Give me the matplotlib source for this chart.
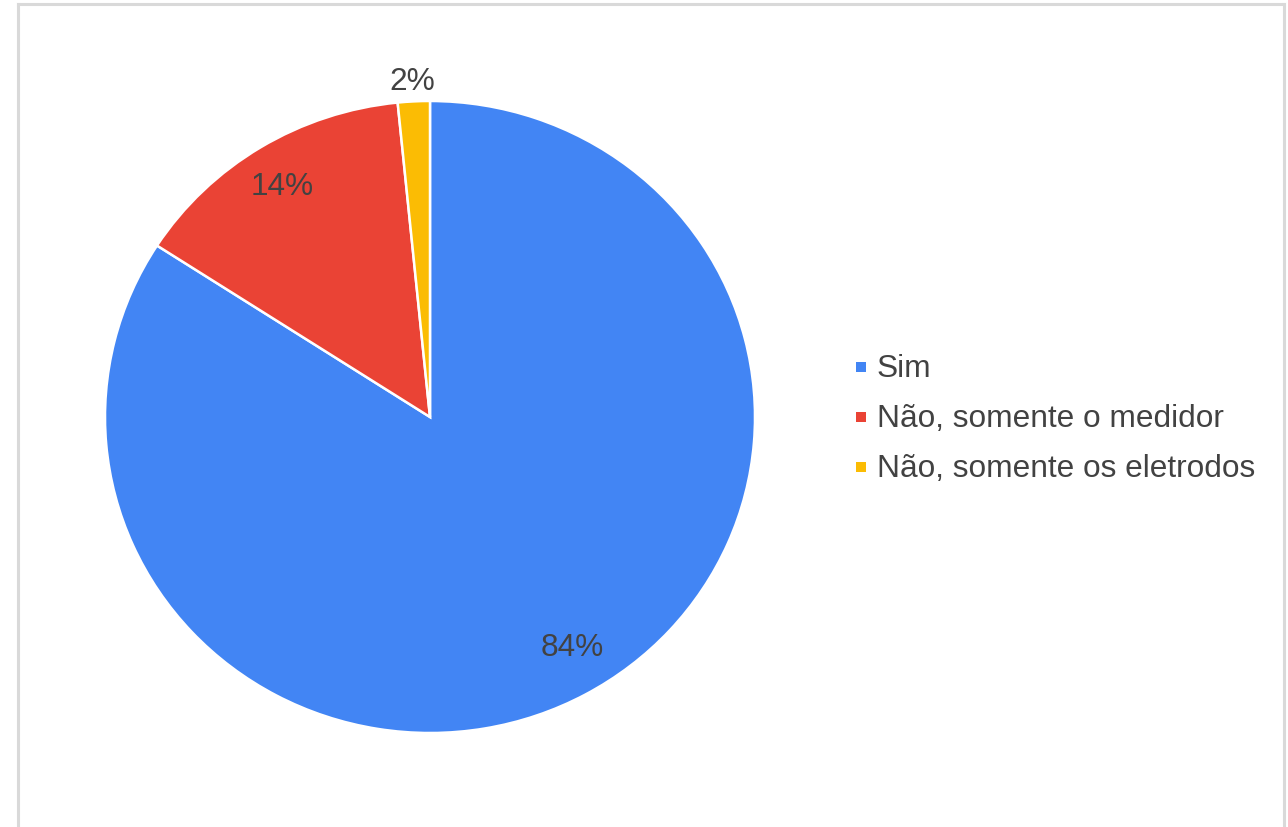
import numpy as np
import matplotlib
matplotlib.use("Agg")
import matplotlib.pyplot as plt
from matplotlib.lines import Line2D
from matplotlib.patches import Rectangle

categories = ["Sim", "Não, somente o medidor", "Não, somente os eletrodos"]
counts = [53, 9, 1]
labels_pct = ["84%", "14%", "2%"]
colors = ["#4285F4", "#EA4335", "#FBBC04"]

W, H = 1288, 828
fig = plt.figure(figsize=(W / 100, H / 100), dpi=100)
fig.patch.set_facecolor("white")

plt.rcParams["font.family"] = ["Liberation Sans", "DejaVu Sans"]
txt_color = "#424242"
fs = 22.8

# pie axes (slightly wider than tall, as in reference)
cx, cy, rx, ry = 430, 418, 325, 316
ax = fig.add_axes([(cx - rx) / W, 1 - (cy + ry) / H, 2 * rx / W, 2 * ry / H])
wedges, _ = ax.pie(counts, colors=colors, startangle=90, counterclock=False,
                   wedgeprops=dict(edgecolor="white", linewidth=1.8))
ax.set_aspect("auto")
ax.set_xlim(-1, 1)
ax.set_ylim(-1, 1)
ax.axis("off")

# percentage labels
total = sum(counts)
start = 90.0
dists = [0.85, 0.86, 1.065]
offsets = [2.5, 0.5, 0.0]
for val, lab, d, off in zip(counts, labels_pct, dists, offsets):
    sweep = 360.0 * val / total
    mid = np.deg2rad(start - sweep / 2 + off)
    start -= sweep
    ax.text(d * np.cos(mid), d * np.sin(mid), lab, ha="center", va="center",
            fontsize=fs, color=txt_color)

# legend
for i, (cat, col) in enumerate(zip(categories, colors)):
    ybase = 377 + 50 * i
    fig.patches.append(Rectangle(((856) / W, 1 - (ybase - 4) / H), 10 / W, 10 / H,
                                 transform=fig.transFigure, facecolor=col,
                                 edgecolor="none"))
    fig.text(877 / W, 1 - ybase / H, cat, ha="left", va="baseline",
             fontsize=fs, color=txt_color)

# frame border
bc = "#d9d9d9"
fig.lines.append(Line2D([18 / W, 18 / W], [0, 1 - 5 / H], transform=fig.transFigure, color=bc, linewidth=2.2))
fig.lines.append(Line2D([18 / W, 1284 / W], [1 - 5 / H, 1 - 5 / H], transform=fig.transFigure, color=bc, linewidth=2.2))
fig.lines.append(Line2D([1284 / W, 1284 / W], [0, 1 - 5 / H], transform=fig.transFigure, color=bc, linewidth=2.2))

fig.savefig("out.png", dpi=100, facecolor="white")
